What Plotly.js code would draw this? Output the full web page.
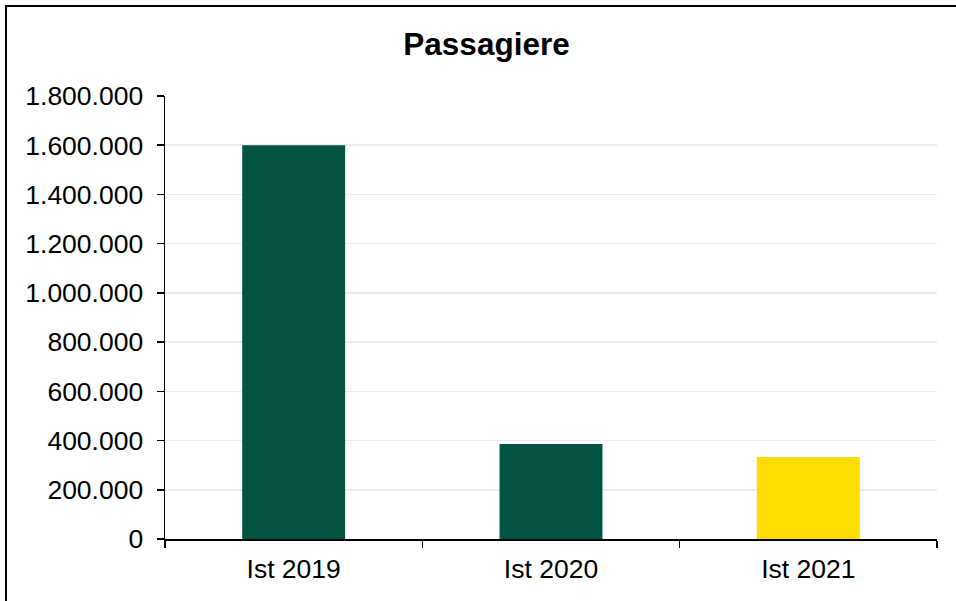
<!DOCTYPE html>
<html>
<head>
<meta charset="utf-8">
<script src="https://cdn.plot.ly/plotly-3.0.1.min.js"></script>
<style>
html,body{margin:0;padding:0;background:#fff;overflow:hidden;}
#chart{position:absolute;left:0;top:0;width:956px;height:601px;}
#frame{position:absolute;left:5px;top:5px;width:1000px;height:700px;border-left:2px solid #000;border-top:2px solid #000;pointer-events:none;}
</style>
</head>
<body>
<div id="chart"></div>
<div id="frame"></div>
<script>
const categories = ["Ist 2019", "Ist 2020", "Ist 2021"];
const passengers = [1600000, 386000, 333000];
const barColors = ["#035443", "#035443", "#FFDD00"];
const chartTitle = "Passagiere";

const trace = {
  type: "bar",
  x: categories,
  y: passengers,
  marker: {color: barColors, line: {width: 0}},
  width: 0.4,
  hoverinfo: "x+y"
};

const layout = {
  width: 956,
  height: 601,
  margin: {l: 165, r: 19, t: 96, b: 62, pad: 0},
  paper_bgcolor: "#ffffff",
  plot_bgcolor: "#ffffff",
  separators: ",.",
  font: {family: "Liberation Sans, Arial, sans-serif", size: 26.5, color: "#000000"},
  title: {
    text: "<b>" + chartTitle + "</b>",
    font: {family: "Liberation Sans, Arial, sans-serif", size: 31.5, color: "#000000"},
    x: 486.5/956, xref: "container", xanchor: "center",
    y: 1 - 44/601, yref: "container", yanchor: "middle"
  },
  showlegend: false,
  xaxis: {
    type: "category",
    showline: true, linecolor: "#000000", linewidth: 1.5,
    ticks: "outside", ticklen: 7, tickwidth: 1.5, tickcolor: "#000000",
    tickson: "boundaries",
    showgrid: false, zeroline: false,
    tickfont: {size: 26.5, color: "#000000"},
    ticklabelstandoff: 6
  },
  yaxis: {
    range: [0, 1800000],
    dtick: 200000, tick0: 0,
    tickformat: ",d",
    showline: true, linecolor: "#000000", linewidth: 1.5,
    ticks: "outside", ticklen: 7, tickwidth: 1.5, tickcolor: "#000000",
    showgrid: true, gridcolor: "#ececec", gridwidth: 1.5,
    zeroline: false,
    tickfont: {size: 26.5, color: "#000000"},
    ticklabelstandoff: 8
  },
  bargap: 0.6
};

Plotly.newPlot("chart", [trace], layout, {displayModeBar: false, staticPlot: true});
</script>
</body>
</html>
